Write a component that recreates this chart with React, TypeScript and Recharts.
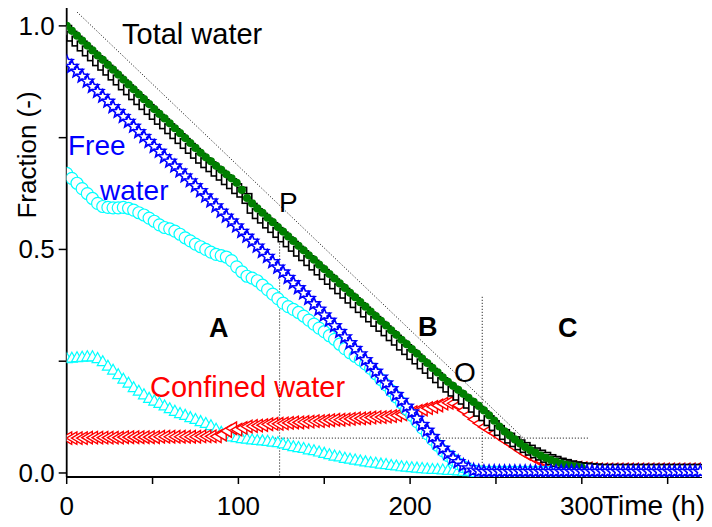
import React from 'react';
import { ComposedChart, Scatter, XAxis, YAxis, ReferenceLine } from 'recharts';

/* ── Data (every 3 h) ─────────────────────────────────────── */
const TIME = [
  0, 3, 6, 9, 12, 15, 18, 21, 24, 27,
  30, 33, 36, 39, 42, 45, 48, 51, 54, 57,
  60, 63, 66, 69, 72, 75, 78, 81, 84, 87,
  90, 93, 96, 99, 102, 105, 108, 111, 114, 117,
  120, 123, 126, 129, 132, 135, 138, 141, 144, 147,
  150, 153, 156, 159, 162, 165, 168, 171, 174, 177,
  180, 183, 186, 189, 192, 195, 198, 201, 204, 207,
  210, 213, 216, 219, 222, 225, 228, 231, 234, 237,
  240, 243, 246, 249, 252, 255, 258, 261, 264, 267,
  270, 273, 276, 279, 282, 285, 288, 291, 294, 297,
  300, 303, 306, 309, 312, 315, 318, 321, 324, 327,
  330, 333, 336, 339, 342, 345, 348, 351, 354, 357,
  360, 363, 366, 369,
];

// total water, open black squares
const TOTAL_WATER = [
  0.990, 0.977, 0.966, 0.955, 0.944, 0.933, 0.922, 0.912, 0.901, 0.890,
  0.879, 0.868, 0.857, 0.846, 0.835, 0.824, 0.813, 0.802, 0.791, 0.781,
  0.770, 0.759, 0.748, 0.737, 0.726, 0.715, 0.704, 0.694, 0.685, 0.675,
  0.666, 0.656, 0.647, 0.636, 0.628, 0.614, 0.592, 0.580, 0.570, 0.559,
  0.549, 0.538, 0.528, 0.517, 0.507, 0.496, 0.486, 0.475, 0.465, 0.454,
  0.444, 0.433, 0.423, 0.412, 0.402, 0.391, 0.381, 0.370, 0.360, 0.349,
  0.339, 0.328, 0.318, 0.307, 0.297, 0.286, 0.276, 0.265, 0.255, 0.244,
  0.234, 0.223, 0.213, 0.202, 0.192, 0.183, 0.174, 0.165, 0.156, 0.147,
  0.138, 0.128, 0.117, 0.106, 0.095, 0.086, 0.078, 0.070, 0.063, 0.057,
  0.051, 0.045, 0.040, 0.035, 0.030, 0.026, 0.022, 0.019, 0.016, 0.014,
  0.012, 0.011, 0.010, 0.009, 0.008, 0.008, 0.008, 0.008, 0.008, 0.008,
  0.008, 0.008, 0.008, 0.008, 0.008, 0.008, 0.008, 0.008, 0.008, 0.008,
  0.008, 0.008, 0.008, 0.008,
];

// sum of the components, green dots
const TOTAL_SUM = [
  1.000, 0.989, 0.978, 0.967, 0.956, 0.945, 0.934, 0.924, 0.913, 0.902,
  0.891, 0.880, 0.869, 0.858, 0.847, 0.836, 0.825, 0.814, 0.803, 0.793,
  0.782, 0.771, 0.760, 0.749, 0.738, 0.727, 0.716, 0.706, 0.697, 0.687,
  0.678, 0.668, 0.659, 0.649, 0.633, 0.615, 0.603, 0.592, 0.582, 0.571,
  0.561, 0.550, 0.540, 0.529, 0.519, 0.508, 0.498, 0.487, 0.477, 0.466,
  0.456, 0.445, 0.435, 0.424, 0.414, 0.403, 0.393, 0.382, 0.372, 0.361,
  0.351, 0.340, 0.330, 0.319, 0.309, 0.298, 0.288, 0.277, 0.267, 0.256,
  0.246, 0.235, 0.225, 0.214, 0.204, 0.195, 0.186, 0.177, 0.168, 0.159,
  0.150, 0.140, 0.129, 0.117, 0.104, 0.093, 0.084, 0.075, 0.066, 0.058,
  0.051, 0.045, 0.039, 0.034, 0.029, 0.025, 0.021, 0.018, 0.016, 0.014,
  0.012, null, null, null, null, null, null, null, null, null,
  null, null, null, null, null, null, null, null, null, null,
  null, null, null, null,
];

// free water, blue stars
const FREE_WATER = [
  0.920, 0.909, 0.898, 0.887, 0.876, 0.864, 0.853, 0.842, 0.831, 0.819,
  0.808, 0.797, 0.786, 0.775, 0.763, 0.752, 0.741, 0.730, 0.719, 0.707,
  0.697, 0.686, 0.675, 0.664, 0.653, 0.642, 0.631, 0.619, 0.608, 0.597,
  0.585, 0.574, 0.563, 0.552, 0.540, 0.529, 0.518, 0.507, 0.495, 0.484,
  0.472, 0.460, 0.449, 0.437, 0.425, 0.414, 0.402, 0.390, 0.378, 0.366,
  0.353, 0.341, 0.329, 0.316, 0.304, 0.291, 0.278, 0.266, 0.253, 0.240,
  0.227, 0.214, 0.201, 0.188, 0.175, 0.162, 0.149, 0.136, 0.122, 0.108,
  0.095, 0.081, 0.067, 0.055, 0.043, 0.033, 0.025, 0.017, 0.011, 0.006,
  0.004, 0.003, 0.003, 0.003, 0.003, 0.003, 0.003, 0.003, 0.003, 0.003,
  0.003, 0.003, 0.003, 0.003, 0.003, 0.003, 0.003, 0.003, 0.003, 0.003,
  0.003, 0.003, 0.003, 0.003, 0.003, 0.003, 0.003, 0.003, 0.003, 0.003,
  0.003, 0.003, 0.003, 0.003, 0.003, 0.003, 0.003, 0.003, 0.003, 0.003,
  0.003, 0.003, 0.003, 0.003,
];

// cyan open circles
const FREE_SLOW = [
  0.670, 0.659, 0.648, 0.636, 0.625, 0.614, 0.603, 0.596, 0.594, 0.593,
  0.593, 0.594, 0.592, 0.588, 0.582, 0.577, 0.570, 0.563, 0.555, 0.549,
  0.546, 0.541, 0.534, 0.526, 0.519, 0.512, 0.506, 0.500, 0.494, 0.489,
  0.486, 0.483, 0.475, 0.461, 0.450, 0.440, 0.436, 0.430, 0.420, 0.410,
  0.400, 0.390, 0.380, 0.372, 0.366, 0.359, 0.351, 0.342, 0.333, 0.324,
  0.316, 0.307, 0.299, 0.288, 0.278, 0.269, 0.261, 0.253, 0.244, 0.234,
  0.222, 0.209, 0.197, 0.184, 0.170, 0.157, 0.143, 0.129, 0.115, 0.101,
  0.088, 0.075, 0.062, 0.050, 0.039, 0.030, 0.021, 0.014, 0.008, 0.005,
  0.003, 0.002, 0.002, 0.002, 0.002, 0.002, 0.002, 0.002, 0.002, 0.002,
  0.002, 0.002, 0.002, 0.002, 0.002, 0.002, 0.002, 0.002, 0.002, 0.002,
  0.002, 0.002, 0.002, 0.002, 0.002, 0.002, 0.002, 0.002, 0.002, 0.002,
  0.002, 0.002, 0.002, 0.002, 0.002, 0.002, 0.002, 0.002, 0.002, 0.002,
  0.002, 0.002, 0.002, 0.002,
];

// cyan open triangles
const FREE_FAST = [
  0.257, 0.258, 0.259, 0.260, 0.261, 0.261, 0.257, 0.250, 0.240, 0.231,
  0.221, 0.211, 0.202, 0.192, 0.184, 0.176, 0.168, 0.162, 0.157, 0.151,
  0.145, 0.139, 0.134, 0.130, 0.125, 0.121, 0.116, 0.112, 0.107, 0.099,
  0.092, 0.087, 0.082, 0.080, 0.078, 0.077, 0.075, 0.074, 0.073, 0.072,
  0.070, 0.069, 0.066, 0.063, 0.060, 0.058, 0.056, 0.053, 0.051, 0.048,
  0.045, 0.042, 0.039, 0.037, 0.034, 0.032, 0.030, 0.028, 0.026, 0.024,
  0.023, 0.021, 0.020, 0.018, 0.017, 0.015, 0.014, 0.013, 0.012, 0.011,
  0.010, 0.009, 0.009, 0.008, 0.007, 0.007, 0.006, 0.005, 0.004, 0.004,
  0.003, 0.003, 0.003, 0.003, 0.003, 0.003, 0.003, 0.003, 0.003, 0.003,
  0.003, 0.003, 0.003, 0.003, 0.003, 0.003, 0.003, 0.003, 0.003, 0.003,
  0.003, 0.003, 0.003, 0.003, 0.003, 0.003, 0.003, 0.003, 0.003, 0.003,
  0.003, 0.003, 0.003, 0.003, 0.003, 0.003, 0.003, 0.003, 0.003, 0.003,
  0.003, 0.003, 0.003, 0.003,
];

// confined water, red left triangles
const CONFINED_WATER = [
  0.078, 0.078, 0.078, 0.078, 0.079, 0.079, 0.079, 0.079, 0.079, 0.079,
  0.079, 0.080, 0.080, 0.080, 0.080, 0.080, 0.080, 0.080, 0.081, 0.081,
  0.081, 0.081, 0.081, 0.081, 0.081, 0.081, 0.082, 0.082, 0.082, 0.082,
  0.086, 0.094, 0.100, 0.097, 0.101, 0.104, 0.105, 0.106, 0.107, 0.109,
  0.110, 0.110, 0.111, 0.112, 0.113, 0.113, 0.114, 0.115, 0.116, 0.116,
  0.117, 0.118, 0.119, 0.119, 0.120, 0.121, 0.122, 0.122, 0.123, 0.124,
  0.125, 0.125, 0.126, 0.127, 0.129, 0.131, 0.134, 0.136, 0.139, 0.142,
  0.145, 0.148, 0.151, 0.155, 0.157, 0.156, 0.151, 0.140, 0.130, 0.120,
  0.111, 0.103, 0.096, 0.089, 0.081, 0.073, 0.066, 0.058, 0.050, 0.043,
  0.037, 0.031, 0.027, 0.023, 0.020, 0.018, 0.016, 0.014, 0.013, 0.012,
  0.011, 0.010, 0.009, 0.008, 0.008, 0.008, 0.008, 0.008, 0.008, 0.008,
  0.008, 0.008, 0.008, 0.008, 0.008, 0.008, 0.008, 0.008, 0.008, 0.008,
  0.008, 0.008, 0.008, 0.008,
];

const X_TICKS = [0, 50, 100, 150, 200, 250, 300, 350];
const Y_TICKS = [0, 0.25, 0.5, 0.75, 1.0];

// guide lines (dotted)
const DIAGONAL_GUIDE = [{ x: 6, y: 1.031 }, { x: 266, y: 0.078 }];
const LEVEL_GUIDE = [{ x: 95, y: 0.078 }, { x: 304, y: 0.078 }];
const P_GUIDE = [{ x: 124, y: 0.54 }, { x: 124, y: -0.009 }];
const O_GUIDE = [{ x: 242, y: 0.394 }, { x: 242, y: -0.009 }];

/* ── Styling ─────────────────────────────────────────────── */
const FONT = "'Liberation Sans', Arial, sans-serif";
const CYAN = '#00ffff';
const BLUE = '#0000ff';
const RED = '#ff0000';
const GREEN = '#007f00';

const toPoints = (values: (number | null)[]) =>
  TIME.map((t, i) => ({ x: t, y: values[i] })).filter((p) => p.y != null);

/* ── Markers ─────────────────────────────────────────────── */
const OpenSquare = (p: any) =>
  p.cx == null ? null : (
    <rect x={p.cx - 4.8} y={p.cy - 4.8} width={9.6} height={9.6} fill="#fff" stroke="#000" strokeWidth={1.6} />
  );

const Dot = (p: any) =>
  p.cx == null ? null : <circle cx={p.cx} cy={p.cy} r={4.1} fill={GREEN} stroke="none" />;

const OpenCircle = (p: any) =>
  p.cx == null ? null : <circle cx={p.cx} cy={p.cy} r={6} fill="#fff" stroke={CYAN} strokeWidth={1.2} />;

const OpenTriangle = (p: any) =>
  p.cx == null ? null : (
    <polygon
      points={`${p.cx - 5.5},${p.cy + 4.5} ${p.cx + 5.5},${p.cy + 4.5} ${p.cx},${p.cy - 5.5}`}
      fill="#fff"
      stroke={CYAN}
      strokeWidth={1.2}
    />
  );

const LeftTriangle = (p: any) =>
  p.cx == null ? null : (
    <polygon
      points={`${p.cx - 5.5},${p.cy} ${p.cx + 5},${p.cy - 6.2} ${p.cx + 5},${p.cy + 6.2}`}
      fill="#fff"
      stroke={RED}
      strokeWidth={1.4}
    />
  );

const OpenStar = (p: any) => {
  if (p.cx == null) return null;
  const pts: string[] = [];
  for (let k = 0; k < 10; k++) {
    const r = k % 2 === 0 ? 6.6 : 2.9;
    const a = -Math.PI / 2 + (k * Math.PI) / 5;
    pts.push(`${(p.cx + r * Math.cos(a)).toFixed(2)},${(p.cy + r * Math.sin(a)).toFixed(2)}`);
  }
  return <polygon points={pts.join(' ')} fill="#fff" stroke={BLUE} strokeWidth={1.6} />;
};

/* ── Ticks ───────────────────────────────────────────────── */
const XTick = (p: any) =>
  p.payload.value % 100 !== 0 ? null : (
    <text x={p.x} y={p.y + 29} textAnchor="middle" fontFamily={FONT} fontSize={26} fill="#000">
      {p.payload.value}
    </text>
  );

const YTick = (p: any) =>
  p.payload.value === 0.25 || p.payload.value === 0.75 ? null : (
    <text x={p.x - 2} y={p.y + 9} textAnchor="end" fontFamily={FONT} fontSize={26} fill="#000">
      {p.payload.value.toFixed(1)}
    </text>
  );

const txt = (s: string, x: number, y: number, color = '#000', size = 28, weight = 400) => (
  <text x={x} y={y} fontFamily={FONT} fontSize={size} fontWeight={weight} fill={color}>
    {s}
  </text>
);

const dotted = { stroke: '#000', strokeWidth: 1, strokeDasharray: '1 2' };

export default function App() {
  return (
    <div style={{ position: 'absolute', left: 0, top: 0, background: '#fff' }}>
      <ComposedChart width={712} height={527} margin={{ top: 8, right: 10, bottom: 0, left: 6.7 }}>
        <XAxis
          xAxisId="b"
          type="number"
          dataKey="x"
          domain={[0, 370]}
          ticks={X_TICKS}
          tick={<XTick />}
          tickSize={7}
          height={50}
          allowDataOverflow
          axisLine={{ stroke: '#000', strokeWidth: 1.8 }}
          tickLine={{ stroke: '#000', strokeWidth: 1.5 }}
        />
        <XAxis
          xAxisId="t"
          orientation="top"
          type="number"
          domain={[0, 370]}
          ticks={X_TICKS}
          tick={false}
          tickSize={2}
          height={0}
          axisLine={{ stroke: '#000', strokeWidth: 1.8 }}
        />
        <YAxis
          yAxisId="l"
          type="number"
          dataKey="y"
          domain={[-0.009, 1.04]}
          ticks={Y_TICKS}
          tick={<YTick />}
          tickSize={8}
          width={60}
          allowDataOverflow
          axisLine={{ stroke: '#000', strokeWidth: 1.8 }}
          tickLine={{ stroke: '#000', strokeWidth: 1.5 }}
        />
        <YAxis
          yAxisId="r"
          orientation="right"
          type="number"
          domain={[-0.009, 1.04]}
          ticks={Y_TICKS}
          tick={false}
          width={0}
          axisLine={{ stroke: '#000', strokeWidth: 1.8 }}
        />

        <ReferenceLine xAxisId="b" yAxisId="l" segment={DIAGONAL_GUIDE} {...dotted} ifOverflow="visible" />
        <ReferenceLine xAxisId="b" yAxisId="l" segment={LEVEL_GUIDE} {...dotted} ifOverflow="visible" />
        <ReferenceLine xAxisId="b" yAxisId="l" segment={P_GUIDE} {...dotted} ifOverflow="visible" />
        <ReferenceLine xAxisId="b" yAxisId="l" segment={O_GUIDE} {...dotted} ifOverflow="visible" />

        <Scatter xAxisId="b" yAxisId="l" data={toPoints(FREE_FAST)} shape={OpenTriangle} isAnimationActive={false} />
        <Scatter xAxisId="b" yAxisId="l" data={toPoints(CONFINED_WATER)} shape={LeftTriangle} isAnimationActive={false} />
        <Scatter xAxisId="b" yAxisId="l" data={toPoints(FREE_SLOW)} shape={OpenCircle} isAnimationActive={false} />
        <Scatter xAxisId="b" yAxisId="l" data={toPoints(TOTAL_WATER)} shape={OpenSquare} isAnimationActive={false} />
        <Scatter xAxisId="b" yAxisId="l" data={toPoints(TOTAL_SUM)} shape={Dot} isAnimationActive={false} />
        <Scatter xAxisId="b" yAxisId="l" data={toPoints(FREE_WATER)} shape={OpenStar} isAnimationActive={false} />

        {txt('Total water', 122, 44, '#000', 29)}
        {txt('P', 279, 212)}
        {txt('Free', 68, 155, BLUE)}
        {txt('water', 100, 200, BLUE)}
        {txt('A', 209, 337, '#000', 27, 700)}
        {txt('B', 418, 336, '#000', 27, 700)}
        {txt('C', 558, 337, '#000', 27, 700)}
        {txt('O', 454, 382)}
        {txt('Confined water', 150, 397, RED, 29)}
        {txt('Time (h)', 602, 515, '#000', 28)}
        <text
          transform="translate(36,155) rotate(-90)"
          textAnchor="middle"
          fontFamily={FONT}
          fontSize={26}
          fill="#000"
        >
          Fraction (-)
        </text>
      </ComposedChart>
    </div>
  );
}
